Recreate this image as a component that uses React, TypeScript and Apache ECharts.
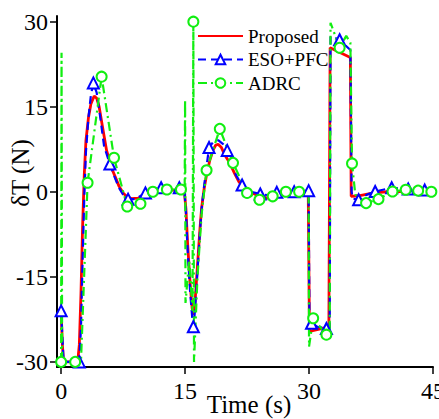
import React, { useEffect, useRef } from "react";
import * as echarts from "echarts";

// [time (s), δT (N), marker flag]
const proposed: number[][] = [
  [0, -21, 0], [0.15, -27, 0], [0.3, -30, 0], [2.0, -30, 0], [2.2, -27, 0], [2.4, -18, 0],
  [2.6, -6, 0], [2.8, 3, 0], [3.0, 9, 0], [3.3, 13, 0], [3.6, 15.5, 0], [4.0, 16.9, 0],
  [4.3, 16.5, 0], [4.6, 15, 0], [5.0, 11.5, 0], [5.5, 7.3, 0], [6.1, 4.2, 0], [6.7, 2.1, 0],
  [7.0, 1.0, 0], [7.5, -0.2, 0], [8.0, -0.9, 0], [8.5, -1.2, 0], [9.3, -1.1, 0], [10.0, -0.9, 0],
  [10.5, -0.6, 0], [11, -0.1, 0], [12, 0.2, 0], [13, 0.3, 0], [14.9, 0.3, 0], [15.1, -3, 0],
  [15.3, -9, 0], [15.6, -16, 0], [15.85, -20.5, 0], [16.0, -21.7, 0], [16.2, -19.5, 0],
  [16.5, -13, 0], [16.8, -6.5, 0], [17.0, -2.9, 0], [17.3, 0.5, 0], [17.6, 3, 0], [18.0, 5.6, 0],
  [18.4, 7.4, 0], [18.7, 8.2, 0], [19.0, 8.4, 0], [19.4, 7.8, 0], [19.8, 6.5, 0], [20.4, 5.1, 0],
  [21.0, 3.2, 0], [21.5, 1.8, 0], [22.0, 0.9, 0], [23.1, -0.2, 0], [24.0, -0.8, 0], [25.0, -1.1, 0],
  [25.8, -0.9, 0], [26.5, -0.3, 0], [27.5, 0, 0], [29.9, 0, 0], [30.05, -24.6, 0], [31.9, -24.0, 0],
  [32.4, -24.0, 0], [32.55, 25.4, 0], [35.0, 23.7, 0], [35.1, -0.8, 0], [36, -0.7, 0],
  [37.8, -0.2, 0], [39.8, 0.05, 0], [45, 0.05, 0],
];

const esoPfc: number[][] = [
  [0, -21, 1], [0.3, -30, 0], [2.2, -30, 1], [2.4, -24, 0], [2.6, -12, 0], [2.8, -1, 0],
  [3.0, 7, 0], [3.3, 13, 0], [3.6, 17, 0], [3.9, 19.2, 1], [4.3, 17.5, 0], [4.7, 13.5, 0],
  [5.2, 8, 0], [5.9, 4.9, 1], [6.5, 2.5, 0], [7.0, 0.7, 0], [7.5, -0.5, 0], [8.1, -1.3, 1],
  [9, -1.3, 0], [10.2, -0.2, 1], [11, 0.3, 0], [12.1, 0.7, 1], [13, 0.5, 0], [14.3, 0.7, 1],
  [14.9, 0.5, 0], [15.1, -3.5, 0], [15.3, -10, 0], [15.6, -17.5, 0], [15.85, -22, 0],
  [16.0, -23.8, 1], [16.2, -21, 0], [16.5, -14, 0], [16.8, -7, 0], [17.0, -3, 0], [17.3, 1, 0],
  [17.6, 4.5, 0], [17.9, 7.8, 1], [18.4, 8.8, 0], [19.0, 9.1, 0], [19.6, 8.4, 0], [20.1, 7.3, 1],
  [20.6, 5, 0], [21.2, 2.8, 0], [21.9, 1.2, 1], [23, 0, 0], [24.1, -0.4, 1], [25, -0.6, 0],
  [26.1, -0.1, 1], [27, 0, 0], [28.2, 0, 1], [29.95, 0.2, 1], [30.05, -23, 0], [30.3, -23.2, 1],
  [31, -23.8, 0], [32.1, -24.1, 1], [32.5, -24, 0], [32.6, 27.4, 0], [33.7, 26.8, 1],
  [35.0, 25, 0], [35.15, 0, 0], [35.3, -1.2, 0], [36.0, -1.4, 1], [37, -0.5, 0], [38.0, 0.05, 1],
  [40.0, 0.7, 1], [42.0, 0.5, 1], [43, 0.4, 0], [44.0, 0.3, 1], [45, 0.3, 0],
];

const adrc: number[][] = [
  [0, -30, 1], [0.05, 24.5, 0], [0.12, -30, 0], [1.7, -30, 1], [2.4, -30, 0], [3.2, 1.6, 1],
  [4.9, 20.3, 1], [6.4, 6.0, 1], [8.0, -2.6, 1], [9.6, -2.1, 1], [11.1, 0, 1], [12.8, 0.4, 1],
  [14.5, 0.4, 1], [14.95, 0.3, 0], [15.0, 16.2, 0], [15.05, -19.6, 0], [15.5, -12, 0],
  [15.9, -21, 0], [16.0, 30, 1], [16.08, -30, 0], [16.5, -15, 0], [17.0, -4, 0], [17.6, 3.8, 1],
  [19.2, 11.1, 1], [20.8, 5.1, 1], [22.5, -0.2, 1], [24.0, -1.4, 1], [25.6, -0.8, 1],
  [27.2, 0, 1], [28.8, 0, 1], [29.95, 0, 0], [30.0, -27.3, 0], [30.5, -22.3, 1],
  [32.1, -25.2, 1], [32.5, -25, 0], [32.6, 29.8, 0], [33.7, 25.4, 1], [34.5, 27.5, 0],
  [35.0, 26.3, 0], [35.2, 5.0, 1], [35.6, -0.5, 0], [36.9, -2.0, 1], [38.4, -1.3, 1],
  [40.1, 0.05, 1], [41.7, 0.35, 1], [43.2, 0.2, 1], [44.8, 0, 1],
];

const seriesNames = ["Proposed", "ESO+PFC", "ADRC"];
const xTicks = [0, 15, 30, 45];
const yTicks = [-30, -15, 0, 15, 30];

const FONT = "'Liberation Serif', 'DejaVu Serif', serif";

function toData(arr: number[][]) {
  return arr.map((p) =>
    p[2] ? { value: [p[0], p[1]] } : { value: [p[0], p[1]], symbol: "none" }
  );
}

const tickText = { fontFamily: FONT, fontSize: 24, color: "#000" };

export default function App() {
  const ref = useRef<HTMLDivElement>(null);
  useEffect(() => {
    if (!ref.current) return;
    const chart = echarts.init(ref.current, null, { renderer: "svg" });
    chart.setOption({
      animation: false,
      backgroundColor: "#fff",
      textStyle: { fontFamily: FONT, color: "#000" },
      grid: { left: 57, right: 6, top: 16, bottom: 52, outerBoundsMode: "none", containLabel: false },
      legend: {
        data: [
          { name: seriesNames[0], itemStyle: { opacity: 0 } },
          { name: seriesNames[1] },
          { name: seriesNames[2] },
        ],
        orient: "vertical",
        left: 197,
        top: 26,
        padding: 0,
        itemWidth: 45,
        itemHeight: 12,
        itemGap: 3.5,
        textStyle: { fontFamily: FONT, fontSize: 19, color: "#000", lineHeight: 20 },
      },
      xAxis: {
        type: "value",
        min: -0.5,
        max: 45,
        name: "Time (s)",
        nameLocation: "middle",
        nameGap: 25,
        nameMoveOverlap: false,
        nameTextStyle: { fontFamily: FONT, fontSize: 25, color: "#000", padding: [0, 0, 0, 8] },
        axisLine: { show: true, onZero: false, lineStyle: { color: "#000", width: 2 } },
        axisTick: { show: true, customValues: xTicks, length: 7, lineStyle: { color: "#000", width: 1.5 } },
        axisLabel: {
          customValues: xTicks,
          ...tickText,
          margin: 12,
          formatter: "{t|{value}}",
          rich: { t: tickText },
        },
        splitLine: { show: false },
      },
      yAxis: {
        type: "value",
        min: -30.9,
        max: 31,
        name: "δT (N)",
        nameLocation: "middle",
        nameGap: 24,
        nameMoveOverlap: false,
        nameTextStyle: { fontFamily: FONT, fontSize: 25, color: "#000", padding: [0, 0, 0, 37] },
        axisLine: { show: true, onZero: false, lineStyle: { color: "#000", width: 2 } },
        axisTick: { show: true, customValues: yTicks, length: 7, lineStyle: { color: "#000", width: 1.5 } },
        axisLabel: {
          customValues: yTicks,
          ...tickText,
          margin: 9,
          formatter: "{t|{value}}",
          rich: { t: tickText },
        },
        splitLine: { show: false },
      },
      series: [
        {
          name: seriesNames[0],
          type: "line",
          data: toData(proposed),
          symbol: "none",
          lineStyle: { color: "#ff0000", width: 2.8 },
          itemStyle: { color: "#ff0000" },
        },
        {
          name: seriesNames[1],
          type: "line",
          data: toData(esoPfc),
          symbol: "emptyTriangle",
          symbolSize: 11,
          showAllSymbol: true,
          lineStyle: { color: "#0000ff", width: 2.2, type: [8, 5] },
          itemStyle: { color: "#0000ff", borderWidth: 1.1 },
        },
        {
          name: seriesNames[2],
          type: "line",
          data: toData(adrc),
          symbol: "emptyCircle",
          symbolSize: 10,
          showAllSymbol: true,
          lineStyle: { color: "#11ee11", width: 2.2, type: [9, 4, 2, 4] },
          itemStyle: { color: "#11ee11", borderWidth: 1.1 },
        },
      ],
    });
    return () => chart.dispose();
  }, []);
  return (
    <div
      ref={ref}
      style={{ position: "fixed", left: 0, top: 0, width: 439, height: 419, background: "#fff" }}
    />
  );
}
